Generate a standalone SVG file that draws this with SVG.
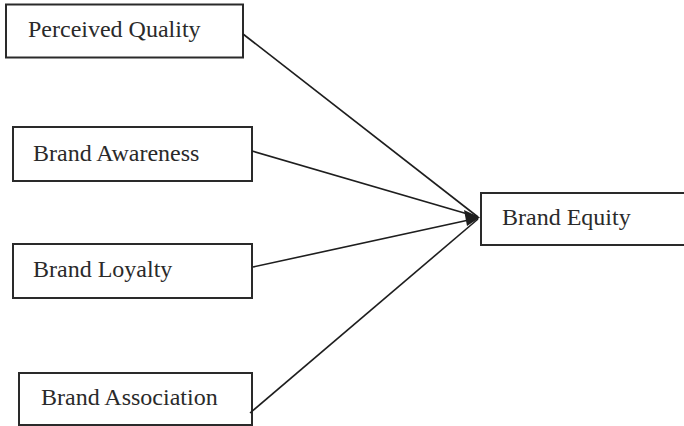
<svg xmlns="http://www.w3.org/2000/svg" width="684" height="426" viewBox="0 0 684 426">
<style>
.box{fill:#fff;stroke:#2a2a2a;stroke-width:2}
.lbl{font-family:"Liberation Serif","Times New Roman",serif;font-size:24px;fill:#2a2a2a}
.conn{stroke:#1e1e1e;stroke-width:1.6;fill:none}
</style>
<rect width="684" height="426" fill="#fff"/>
<g id="perceived-quality">
<rect class="box" x="6" y="4.5" width="237" height="53"/>
<text class="lbl" x="28" y="37">Perceived Quality</text>
</g>
<g id="brand-awareness">
<rect class="box" x="13" y="127" width="239" height="54"/>
<text class="lbl" x="33" y="161">Brand Awareness</text>
</g>
<g id="brand-loyalty">
<rect class="box" x="13" y="244" width="239" height="54"/>
<text class="lbl" x="33" y="277">Brand Loyalty</text>
</g>
<g id="brand-association">
<rect class="box" x="19" y="373" width="233" height="52"/>
<text class="lbl" x="41" y="405">Brand Association</text>
</g>
<g id="brand-equity">
<rect class="box" x="481" y="193" width="210" height="52"/>
<text class="lbl" x="502" y="225">Brand Equity</text>
</g>
<g id="connectors">
<line class="conn" x1="243" y1="34" x2="478" y2="217"/>
<line class="conn" x1="252" y1="151" x2="478" y2="217"/>
<line class="conn" x1="253" y1="267" x2="478" y2="218"/>
<line class="conn" x1="250" y1="413" x2="478" y2="219"/>
<polygon points="480,217.5 464,210 467,226" fill="#1e1e1e"/>
</g>
</svg>
